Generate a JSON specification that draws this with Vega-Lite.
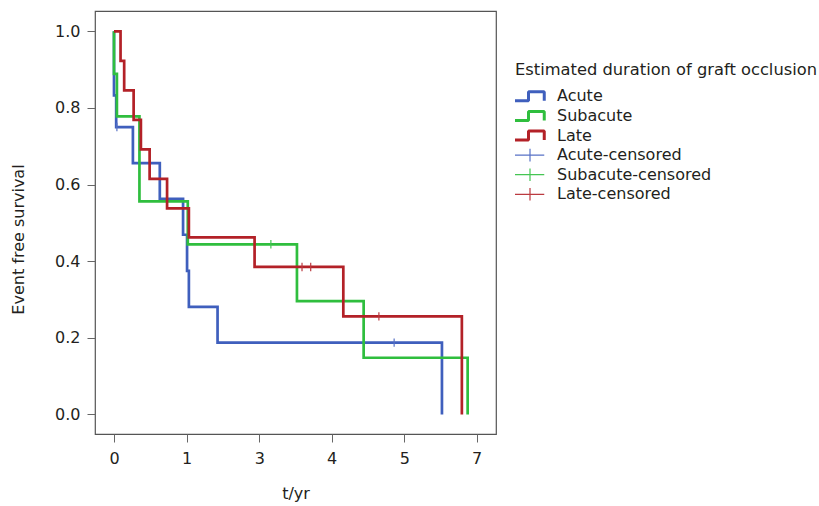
{
  "$schema": "https://vega.github.io/schema/vega-lite/v6.json",
  "width": 401,
  "height": 423,
  "autosize": {"type": "none"},
  "padding": {"left": 95, "top": 11, "right": 323, "bottom": 72},
  "background": "white",
  "config": {
    "font": "DejaVu Sans",
    "view": {"stroke": "#555555", "strokeWidth": 1.2},
    "axis": {
      "grid": false,
      "domain": false,
      "tickColor": "#666666",
      "tickSize": 8,
      "tickWidth": 1,
      "labelFont": "DejaVu Sans",
      "labelFontSize": 16,
      "labelColor": "#231f20",
      "titleFont": "DejaVu Sans",
      "titleFontSize": 16,
      "titleFontWeight": "normal",
      "titleColor": "#231f20"
    },
    "legend": {
      "titleFont": "DejaVu Sans",
      "titleFontSize": 16.3,
      "titleFontWeight": "normal",
      "titleColor": "#231f20",
      "titleLimit": 400,
      "labelFont": "DejaVu Sans",
      "labelFontSize": 16,
      "labelColor": "#231f20",
      "labelLimit": 300
    }
  },
  "datasets": {
    "curves": [
      {"series": "Acute", "t": 0, "s": 1.0},
      {"series": "Acute", "t": 0, "s": 0.833},
      {"series": "Acute", "t": 0.03, "s": 0.75},
      {"series": "Acute", "t": 0.26, "s": 0.656},
      {"series": "Acute", "t": 0.63, "s": 0.5625},
      {"series": "Acute", "t": 0.95, "s": 0.469},
      {"series": "Acute", "t": 1.01, "s": 0.375},
      {"series": "Acute", "t": 1.06, "s": 0.281},
      {"series": "Acute", "t": 1.85, "s": 0.1875},
      {"series": "Acute", "t": 6.04, "s": 0},
      {"series": "Subacute", "t": 0, "s": 1.0},
      {"series": "Subacute", "t": 0, "s": 0.889},
      {"series": "Subacute", "t": 0.04, "s": 0.778},
      {"series": "Subacute", "t": 0.35, "s": 0.556},
      {"series": "Subacute", "t": 1.03, "s": 0.444},
      {"series": "Subacute", "t": 3.52, "s": 0.296},
      {"series": "Subacute", "t": 4.44, "s": 0.148},
      {"series": "Subacute", "t": 6.75, "s": 0},
      {"series": "Late", "t": 0, "s": 1.0},
      {"series": "Late", "t": 0.09, "s": 0.923},
      {"series": "Late", "t": 0.14, "s": 0.846},
      {"series": "Late", "t": 0.27, "s": 0.769},
      {"series": "Late", "t": 0.37, "s": 0.692},
      {"series": "Late", "t": 0.49, "s": 0.615},
      {"series": "Late", "t": 0.73, "s": 0.538},
      {"series": "Late", "t": 1.06, "s": 0.462},
      {"series": "Late", "t": 2.87, "s": 0.385},
      {"series": "Late", "t": 4.16, "s": 0.256},
      {"series": "Late", "t": 6.59, "s": 0}
    ],
    "censored": [
      {"series": "Acute-censored", "t": 0.04, "s": 0.75},
      {"series": "Acute-censored", "t": 4.86, "s": 0.1875},
      {"series": "Subacute-censored", "t": 3.16, "s": 0.444},
      {"series": "Late-censored", "t": 3.59, "s": 0.385},
      {"series": "Late-censored", "t": 3.71, "s": 0.385},
      {"series": "Late-censored", "t": 4.65, "s": 0.256}
    ]
  },
  "encoding": {
    "x": {
      "field": "t",
      "type": "quantitative",
      "scale": {
        "domain": [-0.262, 0, 1, 3, 4, 5, 7, 7.53],
        "range": [0, 19, 91.7, 164.3, 236.7, 309.3, 381.7, 401],
        "nice": false,
        "zero": false
      },
      "axis": {
        "values": [0, 1, 3, 4, 5, 7],
        "labelPadding": 8,
        "title": "t/yr",
        "titlePadding": 19
      }
    },
    "y": {
      "field": "s",
      "type": "quantitative",
      "scale": {"domain": [-0.051, 1.053], "nice": false, "zero": false},
      "axis": {
        "values": [0, 0.2, 0.4, 0.6, 0.8, 1.0],
        "format": ".1f",
        "labelPadding": 7,
        "title": "Event free survival",
        "titlePadding": 28,
        "titleY": 228
      }
    },
    "color": {
      "field": "series",
      "type": "nominal",
      "scale": {
        "domain": ["Acute", "Subacute", "Late", "Acute-censored", "Subacute-censored", "Late-censored"],
        "range": ["#3f5fbd", "#2fbe3e", "#b32127", "#5872c6", "#45c553", "#bb3a40"]
      },
      "legend": {
        "title": "Estimated duration of graft occlusion",
        "orient": "none",
        "legendX": 420,
        "legendY": 51,
        "padding": 0,
        "titlePadding": 10,
        "rowPadding": 3.6,
        "symbolSize": 225,
        "symbolOffset": 7,
        "labelOffset": 19,
        "symbolFillColor": "transparent",
        "encode": {
          "symbols": {
            "update": {
              "shape": {"signal": "indexof(['Acute','Subacute','Late'], datum.value) >= 0 ? 'M-2,0.6H-0.2V-0.6H1.9V0.6' : 'M-2,0H1.9M0,-0.84V0.84'"},
              "strokeWidth": {"signal": "indexof(['Acute','Subacute','Late'], datum.value) >= 0 ? 3 : 1.2"},
              "strokeJoin": {"value": "bevel"},
              "fill": {"value": "transparent"},
              "opacity": {"value": 1}
            }
          }
        }
      }
    }
  },
  "layer": [
    {
      "data": {"name": "curves"},
      "mark": {"type": "line", "interpolate": "step-after", "strokeWidth": 2.7}
    },
    {
      "data": {"name": "censored"},
      "mark": {"type": "point", "shape": "M0,-1V1", "size": 72, "strokeWidth": 1.2, "filled": false, "opacity": 1}
    }
  ]
}
